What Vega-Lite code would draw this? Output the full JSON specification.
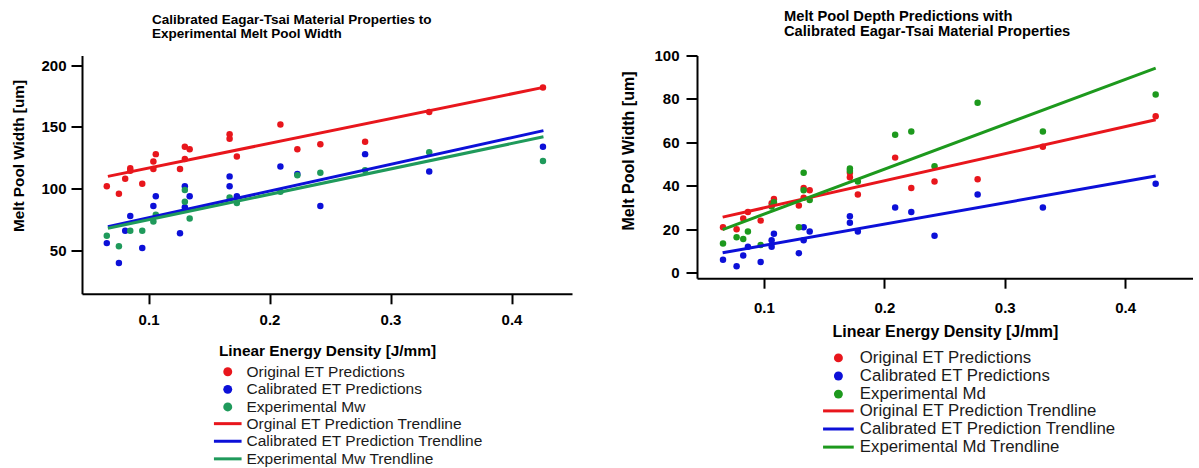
{
  "$schema": "https://vega.github.io/schema/vega-lite/v6.json",
  "background": "white",
  "padding": {"left": 11, "top": 8.5, "right": 0, "bottom": 0},
  "spacing": 48,
  "config": {
    "view": {"stroke": null},
    "font": "Liberation Sans",
    "axis": {
      "domainColor": "black", "domainWidth": 2, "tickColor": "black", "tickWidth": 2, "tickSize": 11,
      "labelFont": "Liberation Sans", "labelFontSize": 15, "labelFontWeight": "bold", "labelColor": "black",
      "titleFont": "Liberation Sans", "titleFontSize": 15.3, "titleFontWeight": "bold", "titleColor": "black",
      "grid": false
    },
    "legend": {
      "labelFont": "Liberation Sans", "labelFontSize": 15.5, "labelColor": "#1a1a1a", "labelLimit": 400,
      "rowPadding": 2, "padding": 0
    },
    "title": {"font": "Liberation Sans", "fontSize": 13.5, "fontWeight": "bold", "color": "black", "lineHeight": 14}
  },
  "datasets": {
    "wpts": [
      {"x": 0.0655, "y": 102, "s": "Original ET Predictions"},
      {"x": 0.0755, "y": 96, "s": "Original ET Predictions"},
      {"x": 0.0807, "y": 108, "s": "Original ET Predictions"},
      {"x": 0.0849, "y": 116.5, "s": "Original ET Predictions"},
      {"x": 0.0849, "y": 114.5, "s": "Original ET Predictions"},
      {"x": 0.0948, "y": 104, "s": "Original ET Predictions"},
      {"x": 0.104, "y": 122, "s": "Original ET Predictions"},
      {"x": 0.104, "y": 116, "s": "Original ET Predictions"},
      {"x": 0.106, "y": 128, "s": "Original ET Predictions"},
      {"x": 0.126, "y": 116, "s": "Original ET Predictions"},
      {"x": 0.130, "y": 124, "s": "Original ET Predictions"},
      {"x": 0.130, "y": 134, "s": "Original ET Predictions"},
      {"x": 0.134, "y": 132, "s": "Original ET Predictions"},
      {"x": 0.167, "y": 144, "s": "Original ET Predictions"},
      {"x": 0.167, "y": 140.5, "s": "Original ET Predictions"},
      {"x": 0.173, "y": 126, "s": "Original ET Predictions"},
      {"x": 0.209, "y": 152, "s": "Original ET Predictions"},
      {"x": 0.223, "y": 132, "s": "Original ET Predictions"},
      {"x": 0.242, "y": 136, "s": "Original ET Predictions"},
      {"x": 0.279, "y": 138, "s": "Original ET Predictions"},
      {"x": 0.332, "y": 162, "s": "Original ET Predictions"},
      {"x": 0.426, "y": 182, "s": "Original ET Predictions"},
      {"x": 0.0655, "y": 56, "s": "Calibrated ET Predictions"},
      {"x": 0.0755, "y": 40, "s": "Calibrated ET Predictions"},
      {"x": 0.0807, "y": 66, "s": "Calibrated ET Predictions"},
      {"x": 0.0849, "y": 78, "s": "Calibrated ET Predictions"},
      {"x": 0.0948, "y": 52, "s": "Calibrated ET Predictions"},
      {"x": 0.104, "y": 86, "s": "Calibrated ET Predictions"},
      {"x": 0.106, "y": 94, "s": "Calibrated ET Predictions"},
      {"x": 0.126, "y": 64, "s": "Calibrated ET Predictions"},
      {"x": 0.130, "y": 102, "s": "Calibrated ET Predictions"},
      {"x": 0.130, "y": 85, "s": "Calibrated ET Predictions"},
      {"x": 0.134, "y": 94, "s": "Calibrated ET Predictions"},
      {"x": 0.167, "y": 110, "s": "Calibrated ET Predictions"},
      {"x": 0.167, "y": 102, "s": "Calibrated ET Predictions"},
      {"x": 0.173, "y": 94, "s": "Calibrated ET Predictions"},
      {"x": 0.209, "y": 118, "s": "Calibrated ET Predictions"},
      {"x": 0.223, "y": 112, "s": "Calibrated ET Predictions"},
      {"x": 0.242, "y": 86, "s": "Calibrated ET Predictions"},
      {"x": 0.279, "y": 128, "s": "Calibrated ET Predictions"},
      {"x": 0.332, "y": 114, "s": "Calibrated ET Predictions"},
      {"x": 0.426, "y": 134, "s": "Calibrated ET Predictions"},
      {"x": 0.0655, "y": 62, "s": "Experimental Mw"},
      {"x": 0.0755, "y": 53.5, "s": "Experimental Mw"},
      {"x": 0.0849, "y": 66, "s": "Experimental Mw"},
      {"x": 0.0948, "y": 66, "s": "Experimental Mw"},
      {"x": 0.104, "y": 73.5, "s": "Experimental Mw"},
      {"x": 0.106, "y": 79, "s": "Experimental Mw"},
      {"x": 0.130, "y": 99, "s": "Experimental Mw"},
      {"x": 0.130, "y": 89.5, "s": "Experimental Mw"},
      {"x": 0.134, "y": 76, "s": "Experimental Mw"},
      {"x": 0.167, "y": 93, "s": "Experimental Mw"},
      {"x": 0.173, "y": 88.5, "s": "Experimental Mw"},
      {"x": 0.209, "y": 97.5, "s": "Experimental Mw"},
      {"x": 0.223, "y": 111, "s": "Experimental Mw"},
      {"x": 0.242, "y": 113, "s": "Experimental Mw"},
      {"x": 0.279, "y": 115, "s": "Experimental Mw"},
      {"x": 0.332, "y": 129.5, "s": "Experimental Mw"},
      {"x": 0.426, "y": 122.5, "s": "Experimental Mw"}
    ],
    "wtrend": [
      {"x": 0.0664, "y": 110, "s": "Orginal ET Prediction Trendline"},
      {"x": 0.4264, "y": 182, "s": "Orginal ET Prediction Trendline"},
      {"x": 0.0664, "y": 69.2, "s": "Calibrated ET Prediction Trendline"},
      {"x": 0.4264, "y": 147, "s": "Calibrated ET Prediction Trendline"},
      {"x": 0.0664, "y": 68, "s": "Experimental Mw Trendline"},
      {"x": 0.4264, "y": 142, "s": "Experimental Mw Trendline"}
    ],
    "dpts": [
      {"x": 0.066, "y": 21, "s": "Original ET Predictions"},
      {"x": 0.0773, "y": 20, "s": "Original ET Predictions"},
      {"x": 0.0828, "y": 25, "s": "Original ET Predictions"},
      {"x": 0.0867, "y": 28, "s": "Original ET Predictions"},
      {"x": 0.0973, "y": 24, "s": "Original ET Predictions"},
      {"x": 0.1064, "y": 32, "s": "Original ET Predictions"},
      {"x": 0.1083, "y": 34, "s": "Original ET Predictions"},
      {"x": 0.129, "y": 31, "s": "Original ET Predictions"},
      {"x": 0.133, "y": 39, "s": "Original ET Predictions"},
      {"x": 0.133, "y": 34.5, "s": "Original ET Predictions"},
      {"x": 0.138, "y": 38, "s": "Original ET Predictions"},
      {"x": 0.1714, "y": 44, "s": "Original ET Predictions"},
      {"x": 0.1714, "y": 46, "s": "Original ET Predictions"},
      {"x": 0.178, "y": 36, "s": "Original ET Predictions"},
      {"x": 0.209, "y": 53, "s": "Original ET Predictions"},
      {"x": 0.2224, "y": 39, "s": "Original ET Predictions"},
      {"x": 0.2417, "y": 42, "s": "Original ET Predictions"},
      {"x": 0.2775, "y": 43, "s": "Original ET Predictions"},
      {"x": 0.3317, "y": 58, "s": "Original ET Predictions"},
      {"x": 0.4254, "y": 72, "s": "Original ET Predictions"},
      {"x": 0.066, "y": 6, "s": "Calibrated ET Predictions"},
      {"x": 0.0773, "y": 3, "s": "Calibrated ET Predictions"},
      {"x": 0.0828, "y": 8, "s": "Calibrated ET Predictions"},
      {"x": 0.0867, "y": 12, "s": "Calibrated ET Predictions"},
      {"x": 0.0973, "y": 5, "s": "Calibrated ET Predictions"},
      {"x": 0.1064, "y": 15, "s": "Calibrated ET Predictions"},
      {"x": 0.1064, "y": 12, "s": "Calibrated ET Predictions"},
      {"x": 0.1083, "y": 18, "s": "Calibrated ET Predictions"},
      {"x": 0.129, "y": 9, "s": "Calibrated ET Predictions"},
      {"x": 0.133, "y": 21, "s": "Calibrated ET Predictions"},
      {"x": 0.133, "y": 15, "s": "Calibrated ET Predictions"},
      {"x": 0.138, "y": 19, "s": "Calibrated ET Predictions"},
      {"x": 0.1714, "y": 26, "s": "Calibrated ET Predictions"},
      {"x": 0.1714, "y": 23, "s": "Calibrated ET Predictions"},
      {"x": 0.178, "y": 19, "s": "Calibrated ET Predictions"},
      {"x": 0.209, "y": 30, "s": "Calibrated ET Predictions"},
      {"x": 0.2224, "y": 28, "s": "Calibrated ET Predictions"},
      {"x": 0.2417, "y": 17, "s": "Calibrated ET Predictions"},
      {"x": 0.2775, "y": 36, "s": "Calibrated ET Predictions"},
      {"x": 0.3317, "y": 30, "s": "Calibrated ET Predictions"},
      {"x": 0.4254, "y": 41, "s": "Calibrated ET Predictions"},
      {"x": 0.066, "y": 13.5, "s": "Experimental Md"},
      {"x": 0.0773, "y": 16.3, "s": "Experimental Md"},
      {"x": 0.0828, "y": 15.5, "s": "Experimental Md"},
      {"x": 0.0867, "y": 19, "s": "Experimental Md"},
      {"x": 0.0973, "y": 12.8, "s": "Experimental Md"},
      {"x": 0.1064, "y": 30.5, "s": "Experimental Md"},
      {"x": 0.1083, "y": 32.5, "s": "Experimental Md"},
      {"x": 0.129, "y": 21, "s": "Experimental Md"},
      {"x": 0.133, "y": 46, "s": "Experimental Md"},
      {"x": 0.133, "y": 38, "s": "Experimental Md"},
      {"x": 0.138, "y": 33.5, "s": "Experimental Md"},
      {"x": 0.1714, "y": 48, "s": "Experimental Md"},
      {"x": 0.1714, "y": 47, "s": "Experimental Md"},
      {"x": 0.178, "y": 42, "s": "Experimental Md"},
      {"x": 0.209, "y": 63.5, "s": "Experimental Md"},
      {"x": 0.2224, "y": 65, "s": "Experimental Md"},
      {"x": 0.2417, "y": 49, "s": "Experimental Md"},
      {"x": 0.2775, "y": 78.2, "s": "Experimental Md"},
      {"x": 0.3317, "y": 65, "s": "Experimental Md"},
      {"x": 0.4254, "y": 82, "s": "Experimental Md"}
    ],
    "dtrend": [
      {"x": 0.0657, "y": 25.6, "s": "Original ET Prediction Trendline"},
      {"x": 0.4254, "y": 70.4, "s": "Original ET Prediction Trendline"},
      {"x": 0.0657, "y": 9.2, "s": "Calibrated ET Prediction Trendline"},
      {"x": 0.4254, "y": 44.5, "s": "Calibrated ET Prediction Trendline"},
      {"x": 0.0657, "y": 19.9, "s": "Experimental Md Trendline"},
      {"x": 0.4254, "y": 94.2, "s": "Experimental Md Trendline"}
    ]
  },
  "hconcat": [
    {
      "width": 490,
      "height": 238.3,
      "title": {"text": ["Calibrated Eagar-Tsai Material Properties to", "Experimental Melt Pool Width"], "anchor": "start", "frame": "group", "dx": 70, "offset": 14.7},
      "layer": [
        {
          "data": {"name": "wpts"},
          "mark": {"type": "circle", "size": 42, "opacity": 1},
          "encoding": {
            "x": {"field": "x", "type": "quantitative", "scale": {"domain": [0.045, 0.45], "nice": false, "zero": false},
                  "axis": {"values": [0.1, 0.2, 0.3, 0.4], "format": ".1f", "title": "Linear Energy Density [J/mm]", "titleFontSize": 15.4, "tickSize": 10, "labelPadding": 9, "titlePadding": 16}},
            "y": {"field": "y", "type": "quantitative", "scale": {"domain": [15, 207.8], "nice": false, "zero": false},
                  "axis": {"values": [50, 100, 150, 200], "title": "Melt Pool Width [um]", "labelPadding": 5, "titlePadding": 14, "titleY": 100}},
            "color": {"field": "s", "type": "nominal",
                      "scale": {"domain": ["Original ET Predictions", "Calibrated ET Predictions", "Experimental Mw"], "range": ["#e8161c", "#0c10d8", "#1f9a5b"]},
                      "legend": {"orient": "none", "legendX": 138, "legendY": 308.5, "title": null, "symbolType": "circle", "symbolSize": 80, "labelOffset": 11, "rowPadding": 0.6}}
          }
        },
        {
          "data": {"name": "wtrend"},
          "mark": {"type": "line", "strokeWidth": 3},
          "encoding": {
            "x": {"field": "x", "type": "quantitative"},
            "y": {"field": "y", "type": "quantitative"},
            "color": {"field": "s", "type": "nominal",
                      "scale": {"domain": ["Orginal ET Prediction Trendline", "Calibrated ET Prediction Trendline", "Experimental Mw Trendline"], "range": ["#e8161c", "#0c10d8", "#1f9a5b"]},
                      "legend": {"orient": "none", "legendX": 138, "legendY": 360.4, "title": null, "symbolType": "M-3.09,0H3.09", "symbolSize": 80, "symbolStrokeWidth": 3, "labelOffset": 11, "rowPadding": 0.6}}
          }
        }
      ],
      "resolve": {"scale": {"color": "independent"}}
    },
    {
      "width": 496,
      "height": 222.7,
      "title": {"text": ["Melt Pool Depth Predictions with", "Calibrated Eagar-Tsai Material Properties"], "anchor": "start", "frame": "group", "dx": 87, "offset": 10, "fontSize": 14.7, "lineHeight": 15},
      "layer": [
        {
          "data": {"name": "dpts"},
          "mark": {"type": "circle", "size": 42, "opacity": 1},
          "encoding": {
            "x": {"field": "x", "type": "quantitative", "scale": {"domain": [0.0444, 0.4564], "nice": false, "zero": false},
                  "axis": {"values": [0.1, 0.2, 0.3, 0.4], "format": ".1f", "title": "Linear Energy Density [J/mm]", "titleFontSize": 16, "tickSize": 10, "labelPadding": 12, "titlePadding": 8}},
            "y": {"field": "y", "type": "quantitative", "scale": {"domain": [-2.5, 100], "nice": false, "zero": false},
                  "axis": {"values": [0, 20, 40, 60, 80, 100], "title": "Melt Pool Width [um]", "titleFontSize": 16, "labelPadding": 7, "titlePadding": 17, "titleY": 95}},
            "color": {"field": "s", "type": "nominal",
                      "scale": {"domain": ["Original ET Predictions", "Calibrated ET Predictions", "Experimental Md"], "range": ["#e8161c", "#0c10d8", "#1d991d"]},
                      "legend": {"orient": "none", "legendX": 133, "legendY": 294, "title": null, "symbolType": "circle", "symbolSize": 80, "labelOffset": 13, "labelFontSize": 16.8, "rowPadding": 0.1}}
          }
        },
        {
          "data": {"name": "dtrend"},
          "mark": {"type": "line", "strokeWidth": 3},
          "encoding": {
            "x": {"field": "x", "type": "quantitative"},
            "y": {"field": "y", "type": "quantitative"},
            "color": {"field": "s", "type": "nominal",
                      "scale": {"domain": ["Original ET Prediction Trendline", "Calibrated ET Prediction Trendline", "Experimental Md Trendline"], "range": ["#e8161c", "#0c10d8", "#1d991d"]},
                      "legend": {"orient": "none", "legendX": 133, "legendY": 347, "title": null, "symbolType": "M-3.43,0H3.43", "symbolSize": 80, "symbolStrokeWidth": 3, "labelOffset": 13, "labelFontSize": 16.8, "rowPadding": 0.1}}
          }
        }
      ],
      "resolve": {"scale": {"color": "independent"}}
    }
  ]
}
